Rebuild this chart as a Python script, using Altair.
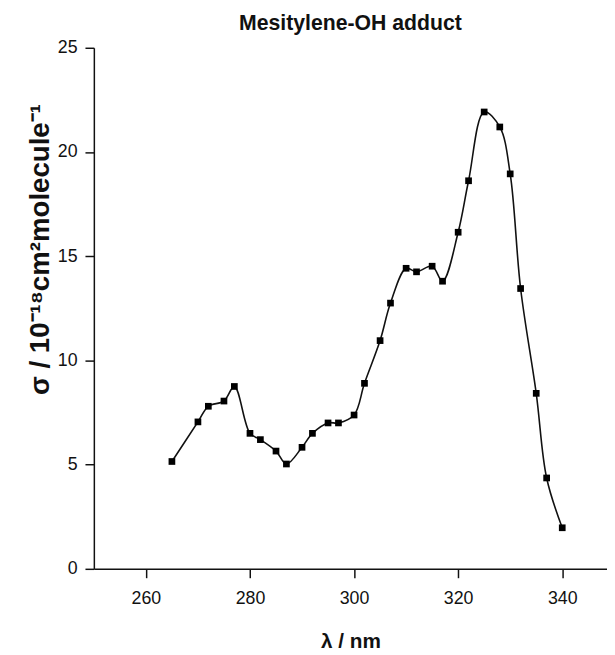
import altair as alt
import pandas as pd

# wavelength (nm) and cross section (1e-18 cm^2 molecule^-1)
wavelength = [265, 270, 272, 275, 277, 280, 282, 285, 287, 290, 292, 295, 297, 300, 302,
              305, 307, 310, 312, 315, 317, 320, 322, 325, 328, 330, 332, 335, 337, 340]
sigma = [5.15, 7.05, 7.80, 8.05, 8.75, 6.50, 6.20, 5.65, 5.03, 5.83, 6.50, 7.00, 7.00, 7.38, 8.90,
         10.95, 12.75, 14.42, 14.25, 14.52, 13.80, 16.15, 18.62, 21.92, 21.20, 18.95, 13.45, 8.42, 4.36, 1.97]

x_ticks = [260, 280, 300, 320, 340]
y_ticks = [0, 5, 10, 15, 20, 25]

title_text = "Mesitylene-OH adduct"
x_title = "λ / nm"
y_title = "σ / 10⁻¹⁸cm²molecule⁻¹"

df = pd.DataFrame({"wl": wavelength, "sigma": sigma})

FONT = "Liberation Sans"
INK = "#111111"

x_enc = alt.X(
    "wl:Q",
    scale=alt.Scale(domain=[250, 348.6], nice=False, zero=False),
    axis=alt.Axis(
        values=x_ticks, title=x_title, grid=False,
        tickSize=9, labelPadding=12,
        labelFontSize=18, titleFontSize=21, titleFontWeight="bold",
        labelFont=FONT, titleFont=FONT, labelColor=INK, titleColor=INK,
        domainColor=INK, tickColor=INK, domainWidth=1.5, tickWidth=1.5,
        titleX=260, titleY=80, titleBaseline="alphabetic",
    ),
)
y_enc = alt.Y(
    "sigma:Q",
    scale=alt.Scale(domain=[0, 25], nice=False),
    axis=alt.Axis(
        values=y_ticks, title=y_title, grid=False,
        tickSize=9, labelPadding=8,
        labelFontSize=18, titleFontSize=28, titleFontWeight="bold",
        labelFont=FONT, titleFont=FONT, labelColor=INK, titleColor=INK,
        domainColor=INK, tickColor=INK, domainWidth=1.5, tickWidth=1.5,
        titleAngle=270, titleX=-54, titleY=204, titleAlign="center", titleBaseline="middle",
    ),
)

base = alt.Chart(df).encode(x=x_enc, y=y_enc)

line = base.mark_line(color=INK, strokeWidth=1.6, interpolate="catmull-rom")
pts = base.mark_square(color="#000000", size=46, opacity=1)

chart = (
    alt.layer(line, pts)
    .properties(
        width=520, height=528,
        title=alt.TitleParams(title_text, fontSize=21.5, fontWeight="bold", font=FONT,
                              color=INK, anchor="middle", offset=5),
        autosize=alt.AutoSizeParams(type="none"),
        padding={"left": 87, "top": 36, "right": 0, "bottom": 83},
    )
    .configure_view(stroke=None)
)

chart.save("out.html", embed_options={"renderer": "svg", "actions": False})
